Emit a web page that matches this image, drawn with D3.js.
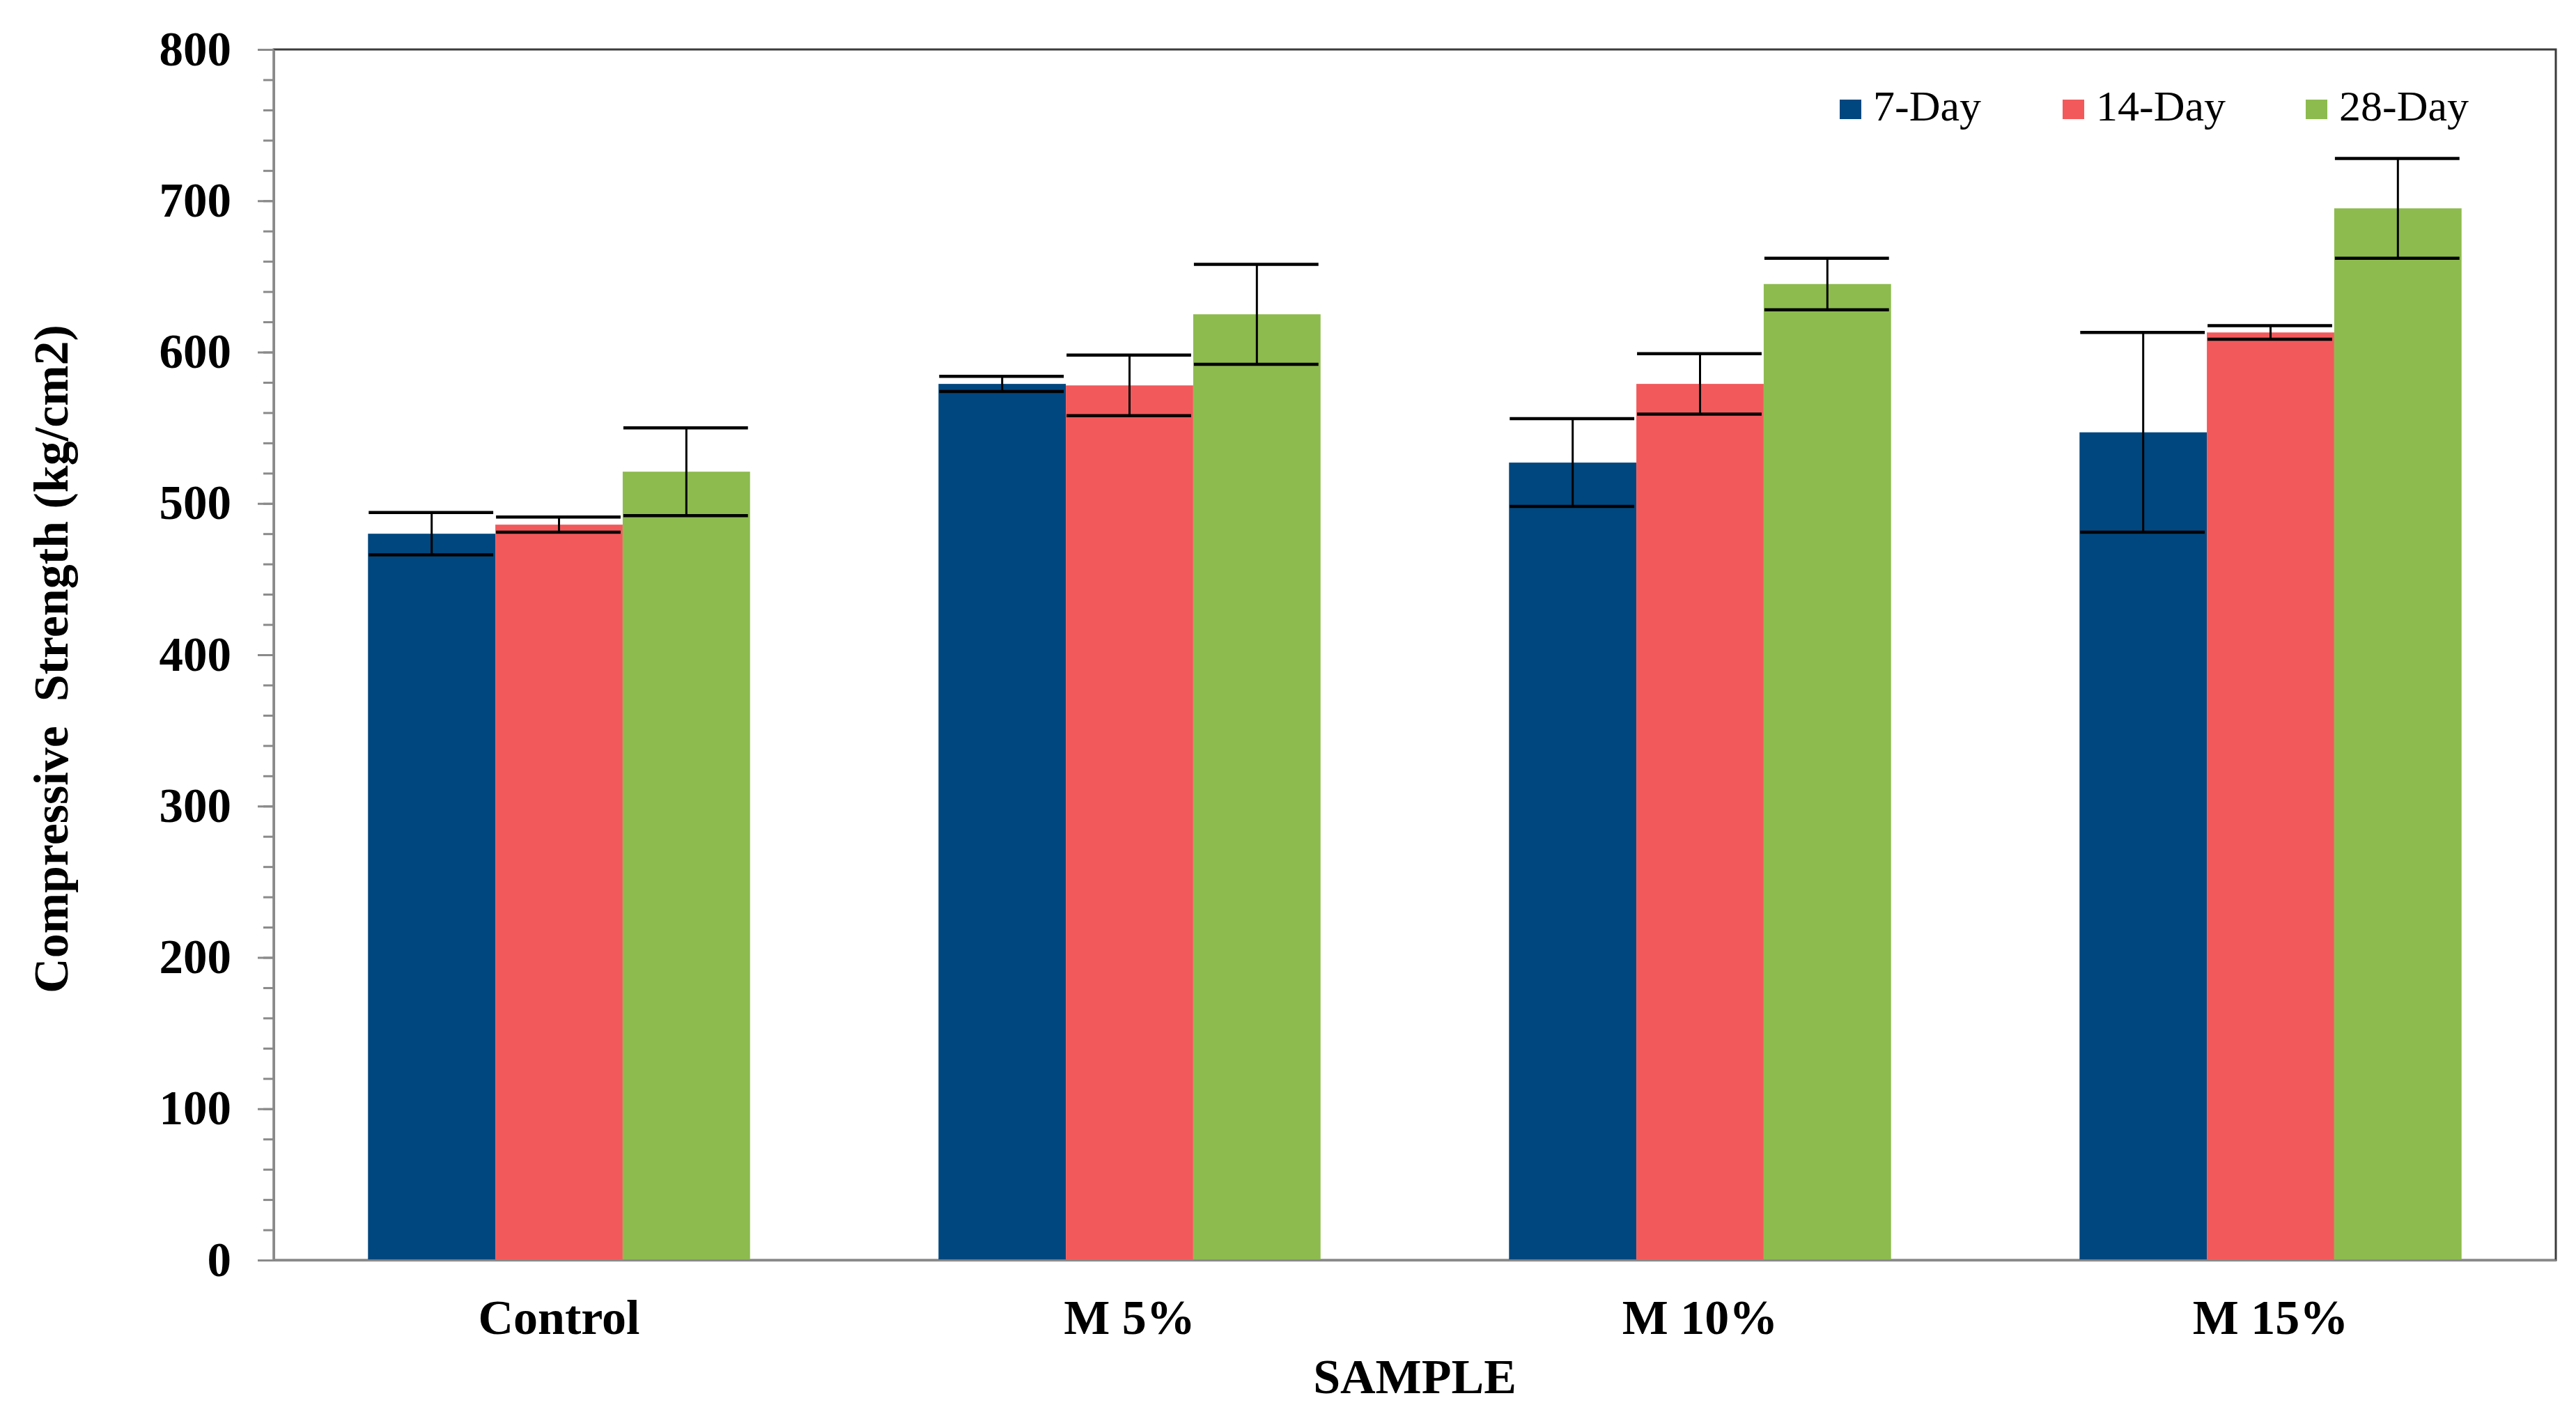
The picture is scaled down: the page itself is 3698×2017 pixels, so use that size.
<!DOCTYPE html>
<html>
<head>
<meta charset="utf-8">
<script src="https://cdn.jsdelivr.net/npm/d3@7"></script>
<style>
  body { margin: 0; background: #fff; }
  svg text { font-family: "Liberation Serif", "Times New Roman", serif; }
</style>
</head>
<body>
<div id="chart-container"></div>
<script>
var categories = ["Control", "M 5%", "M 10%", "M 15%"];
var series = ["7-Day", "14-Day", "28-Day"];
var colors = ["#00477F", "#F2595B", "#8DBB4E"];

// compressive strength (kg/cm2), one array per curing age
var day7  = [480, 579, 527, 547];
var day14 = [486, 578, 579, 613];
var day28 = [521, 625, 645, 695];

// error bar half-lengths
var err7  = [14, 5, 29, 66];
var err14 = [5, 20, 20, 4.5];
var err28 = [29, 33, 17, 33];

var yTicks = [0, 100, 200, 300, 400, 500, 600, 700, 800];
var minorStep = 20;

var width = 3698, height = 2017;
var margin = { top: 71, right: 29, bottom: 208, left: 393 };

var values = [day7, day14, day28];
var errors = [err7, err14, err28];

var svg = d3.select('#chart-container')
            .append('svg')
            .attr('width', width)
            .attr('height', height);

var x = d3.scaleBand()
          .domain(categories)
          .range([margin.left, width - margin.right])
          .padding(0);

var xSub = d3.scaleBand()
             .domain(series)
             .range([0, x.bandwidth()])
             .paddingInner(0)
             .paddingOuter(0.74);

var y = d3.scaleLinear()
          .domain([0, 800])
          .range([height - margin.bottom, margin.top]);

// plot area border (top / right)
svg.append('rect')
   .attr('x', margin.left)
   .attr('y', margin.top)
   .attr('width', width - margin.right - margin.left)
   .attr('height', height - margin.bottom - margin.top)
   .attr('fill', 'none')
   .attr('stroke', '#3c3c3c')
   .attr('stroke-width', 3);

// bars
var groups = svg.selectAll('g.series')
   .data(series)
   .enter()
   .append('g')
     .attr('class', 'series')
     .attr('fill', function(d, i) { return colors[i]; });

function rows(d, i) {
  return categories.map(function(c, j) {
    return { cat: c, s: d, v: values[i][j], e: errors[i][j] };
  });
}

groups.selectAll('rect')
   .data(rows)
   .enter()
   .append('rect')
     .attr('x', function(d) { return x(d.cat) + xSub(d.s); })
     .attr('y', function(d) { return y(d.v); })
     .attr('width', xSub.bandwidth())
     .attr('height', function(d) { return y(0) - y(d.v); });

// error bars
var eb = groups.selectAll('g.err')
   .data(rows)
   .enter()
   .append('g')
     .attr('class', 'err')
     .attr('stroke', '#000');

eb.append('line')
   .attr('x1', function(d) { return x(d.cat) + xSub(d.s) + xSub.bandwidth() / 2; })
   .attr('x2', function(d) { return x(d.cat) + xSub(d.s) + xSub.bandwidth() / 2; })
   .attr('y1', function(d) { return y(d.v + d.e); })
   .attr('y2', function(d) { return y(d.v - d.e); })
   .attr('stroke-width', 3);

eb.selectAll('line.cap')
   .data(function(d) { return [d.v + d.e, d.v - d.e].map(function(t) { return { d: d, t: t }; }); })
   .enter()
   .append('line')
     .attr('class', 'cap')
     .attr('x1', function(o) { return x(o.d.cat) + xSub(o.d.s) + 1; })
     .attr('x2', function(o) { return x(o.d.cat) + xSub(o.d.s) + xSub.bandwidth() - 3; })
     .attr('y1', function(o) { return y(o.t); })
     .attr('y2', function(o) { return y(o.t); })
     .attr('stroke-width', 4.5);

// y axis: minor ticks
svg.append('g')
   .attr('transform', 'translate(' + margin.left + ',0)')
   .call(d3.axisLeft(y).tickValues(d3.range(0, 801, minorStep)).tickSize(15).tickFormat(''))
   .call(function(g) { g.select('.domain').remove(); })
   .selectAll('line').attr('stroke', '#8a8a8a').attr('stroke-width', 3);

// y axis: major ticks with labels
var yAxis = svg.append('g')
   .attr('transform', 'translate(' + margin.left + ',0)')
   .call(d3.axisLeft(y).tickValues(yTicks).tickSize(23).tickSizeOuter(0).tickPadding(38));
yAxis.select('.domain').attr('stroke', '#8a8a8a').attr('stroke-width', 3);
yAxis.selectAll('line').attr('stroke', '#8a8a8a').attr('stroke-width', 3);
yAxis.selectAll('text')
   .attr('font-family', '"Liberation Serif", serif')
   .attr('font-size', 69)
   .attr('font-weight', 'bold')
   .attr('fill', '#000');

// x axis
var xAxis = svg.append('g')
   .attr('transform', 'translate(0,' + y(0) + ')')
   .call(d3.axisBottom(x).tickSize(0).tickSizeOuter(0).tickPadding(56));
xAxis.select('.domain').attr('stroke', '#8a8a8a').attr('stroke-width', 3);
xAxis.selectAll('text')
   .attr('font-family', '"Liberation Serif", serif')
   .attr('font-size', 70)
   .attr('font-weight', 'bold')
   .attr('fill', '#000');

// axis titles
svg.append('text')
   .attr('x', (margin.left + width - margin.right) / 2)
   .attr('y', 2000)
   .attr('text-anchor', 'middle')
   .attr('font-size', 70)
   .attr('font-weight', 'bold')
   .text('SAMPLE');

svg.append('text')
   .attr('transform', 'translate(97,946) rotate(-90)')
   .attr('text-anchor', 'middle')
   .attr('font-size', 70)
   .attr('font-weight', 'bold')
   .style('white-space', 'pre')
   .text('Compressive  Strength (kg/cm2)');

// legend
var legendX = [2641, 2961, 3310];
var legend = svg.selectAll('g.legend')
   .data(series)
   .enter()
   .append('g')
     .attr('class', 'legend')
     .attr('transform', function(d, i) { return 'translate(' + legendX[i] + ',143)'; });

legend.append('rect')
   .attr('width', 31)
   .attr('height', 28)
   .attr('fill', function(d, i) { return colors[i]; });

legend.append('text')
   .attr('x', 48)
   .attr('y', 30)
   .attr('font-size', 62)
   .text(function(d) { return d; });
</script>
</body>
</html>
